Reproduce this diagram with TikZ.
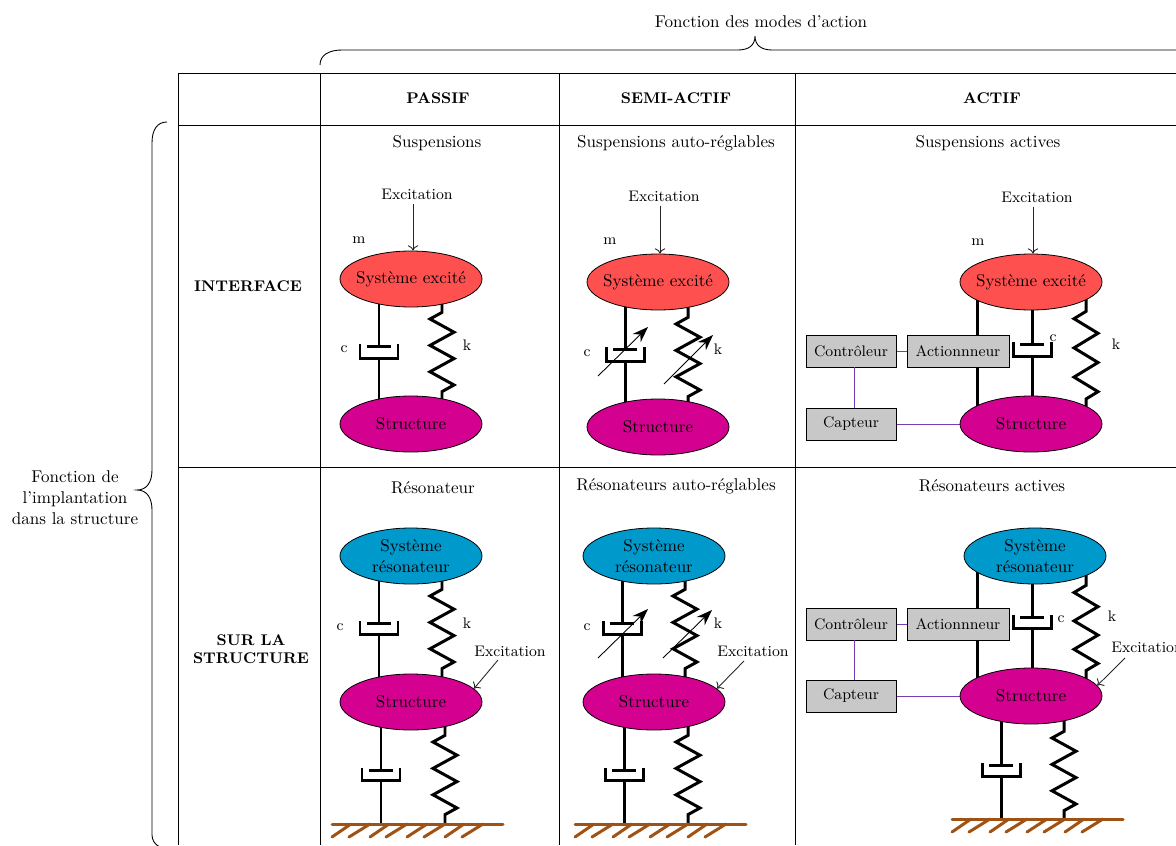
\documentclass[tikz,border=0pt]{standalone}
\usetikzlibrary{shapes.geometric,arrows.meta,backgrounds}
\definecolor{rouge}{RGB}{255,80,80}
\definecolor{magen}{RGB}{212,0,143}
\definecolor{bleu}{RGB}{0,153,204}
\definecolor{gris}{RGB}{200,200,200}
\definecolor{brun}{RGB}{160,82,20}
\definecolor{viol}{RGB}{120,60,180}
\newcommand\taillen{\fontsize{9.7}{11.8}\selectfont}
\newcommand\taillep{\fontsize{8.7}{10.6}\selectfont}
\tikzset{
  masse/.style={ellipse,draw=black,line width=0.45pt,minimum width=2.84cm,minimum height=1.12cm,inner sep=-8pt,align=center,font=\taillen},
  sysex/.style={masse,fill=rouge},
  sysres/.style={masse,fill=bleu},
  struct/.style={masse,fill=magen},
  boite/.style={rectangle,draw=black,line width=0.5pt,fill=gris,inner sep=0pt,minimum height=0.64cm,font=\taillep},
  boitec/.style={boite,minimum width=1.8cm},
  boitea/.style={boite,minimum width=2.04cm},
  meca/.style={line width=1.7pt,black,line join=miter},
  liaison/.style={viol,line width=0.55pt},
  exc/.style={line width=0.5pt,-{To[length=3pt,width=6pt]},black!85},
  regl/.style={line width=0.5pt,-{Stealth[length=9pt,width=6.5pt]},black},
  lab/.style={font=\taillep,inner sep=0pt},
  titre/.style={inner sep=0pt,font=\taillen},
  entete/.style={inner sep=0pt,font=\fontsize{8.8}{10.6}\selectfont\bfseries,align=center},
  trait/.style={line width=0.5pt,black},
  accol/.style={line width=0.5pt,black},
  solb/.style={brun,line width=1.7pt,line cap=round}
}
\newcommand\ressort[5]{%
  \coordinate (rx) at (#2,0);
  \draw[meca] (#1.center -| rx) -- (#1.south -| rx) -- ++(0,#4) -- ++(-12,{#5/2}) -- ++(24,#5) -- ++(-24,#5) -- ++(24,#5) -- ++(-24,#5) -- ++(24,#5) -- ++(-12,{#5/2}) -- (#3.center -| rx);}
\newcommand\amort[5]{%
  \coordinate (rx) at (#2,0);
  \draw[meca] (#1.center -| rx) -- (#1.south -| rx) -- ++(0,#4);
  \draw[meca] (#1.south -| rx) ++(-12,#4) -- ++(24,0);
  \draw[meca] (#1.south -| rx) ++(-19,{#4-2}) -- ++(0,{#5-#4+2}) -- ++(38,0) -- ++(0,{-(#5-#4+2)});
  \draw[meca] (#1.south -| rx) ++(0,#5) -- (#3.center -| rx);}
\newcommand\sol[3]{%
  \coordinate (#1) at (#2,#3);
  \draw[solb] (#1) -- ++(171,0);
  \foreach \a/\b in {0/19,17/38,38/57,54/75,75/95,92/113,113/132,130/151}
    \draw[solb] (#1) ++(\a,13) -- ++({\b-\a},-13);}
\begin{document}
\begin{tikzpicture}[x=0.02cm,y=-0.02cm]
\useasboundingbox (0,0) rectangle (1176,845);
\clip (0,0) rectangle (1176,845);
% table
\draw[trait] (178,73) -- (1176,73);
\draw[trait] (178,125) -- (1176,125);
\draw[trait] (178,467) -- (1176,467);
\foreach \x in {178,320,559,795} \draw[trait] (\x,73) -- (\x,845);
% braces
\draw[accol] (320,65) .. controls (320,55) and (329,50) .. (342,50) -- (738,50) .. controls (749,50) and (755,45) .. (755,36) .. controls (755,45) and (761,50) .. (772,50) -- (1176,50);
\draw[accol] (167,122) .. controls (157,122) and (152,130) .. (152,143) -- (152,470) .. controls (152,482) and (147,490) .. (137,490) .. controls (147,490) and (152,498) .. (152,510) -- (152,835) .. controls (152,840) and (155,845) .. (160,847);
\node[titre] (haut) at (761,22) {Fonction des modes d’action};
\node[titre,align=center,font=\fontsize{9.7}{12}\selectfont] (gauche) at (75,498) {Fonction de\\l’implantation\\dans la structure};
% headers
\node[entete] (hp) at (438,98) {PASSIF};
\node[entete] (hs) at (676,98) {SEMI-ACTIF};
\node[entete] (ha) at (992,98) {ACTIF};
\node[entete] (li) at (248,286) {INTERFACE};
\node[entete] (ls) at (251,649) {SUR LA\\STRUCTURE};
\node[titre] (t11) at (437,143) {Suspensions};
\node[titre] (t12) at (676,143) {Suspensions auto-réglables};
\node[titre] (t13) at (988,143) {Suspensions actives};
\node[titre] (t21) at (433,488) {Résonateur};
\node[titre] (t22) at (676,486) {Résonateurs auto-réglables};
\node[titre] (t23) at (992,486) {Résonateurs actives};
% masses
\node[sysex] (A1) at (411,279) {Système excité};
\node[struct] (B1) at (411,424) {Structure};
\node[sysex] (A2) at (658,282) {Système excité};
\node[struct] (B2) at (658,427) {Structure};
\node[sysex] (A3) at (1031,282) {Système excité};
\node[struct] (B3) at (1031,424) {Structure};
\node[sysres] (C1) at (411,556) {Système\\résonateur};
\node[struct] (D1) at (411,702) {Structure};
\node[sysres] (C2) at (654,556) {Système\\résonateur};
\node[struct] (D2) at (654,702) {Structure};
\node[sysres] (C3) at (1035,556) {Système\\résonateur};
\node[struct] (D3) at (1031,696) {Structure};
% ground
\sol{G1}{332}{824}
\sol{G2}{575}{824}
\sol{G3}{952}{819}
% boxes
\node[boitec] (ctl1) at (851,351) {Contrôleur};
\node[boitea] (act1) at (958,351) {Actionnneur};
\node[boitec] (cap1) at (851,424) {Capteur};
\node[boitec] (ctl2) at (851,624) {Contrôleur};
\node[boitea] (act2) at (958,624) {Actionnneur};
\node[boitec] (cap2) at (851,696) {Capteur};
\coordinate (tige) at (977,0);
\begin{pgfonlayer}{background}
\amort{A1}{379}{B1}{39}{51}
\ressort{A1}{442}{B1}{5}{13.2}
\amort{A2}{625}{B2}{39}{51}
\ressort{A2}{688}{B2}{7}{13.2}
\draw[meca] (A3.center -| tige) -- (B3.center -| tige);
\amort{A3}{1032}{B3}{34}{46}
\ressort{A3}{1086}{B3}{1}{14.6}
\amort{C1}{379}{D1}{39}{50}
\ressort{C1}{442}{D1}{5}{13.2}
\amort{D1}{381}{G1}{40}{50}
\ressort{D1}{445}{G1}{5}{13.2}
\amort{C2}{622}{D2}{39}{50}
\ressort{C2}{685}{D2}{5}{13.2}
\amort{D2}{624}{G2}{40}{50}
\ressort{D2}{688}{G2}{5}{13.2}
\draw[meca] (C3.center -| tige) -- (D3.center -| tige);
\amort{C3}{1032}{D3}{33}{44}
\ressort{C3}{1086}{D3}{1}{14.2}
\amort{D3}{1001}{G3}{41}{52}
\ressort{D3}{1064}{G3}{7}{13.2}
\draw[liaison] (ctl1) -- (act1);
\draw[liaison] (ctl2) -- (act2);
\draw[liaison] (cap1) -- (B3);
\draw[liaison] (cap2) -- (D3);
\end{pgfonlayer}
\coordinate (v1) at (854,0);
\draw[liaison] (ctl1.south -| v1) -- (cap1.north -| v1);
\draw[liaison] (ctl2.south -| v1) -- (cap2.north -| v1);
% labels
\node[lab] (m1) at (359,240) {m};
\node[lab] (c1) at (344,349) {c};
\node[lab] (k1) at (467,345) {k};
\node[lab] (m2) at (610,241) {m};
\node[lab] (c2) at (587,353) {c};
\node[lab] (k2) at (718,349) {k};
\node[lab] (m3) at (978,242) {m};
\node[lab] (c3) at (1053,338) {c};
\node[lab] (k3) at (1116,344) {k};
\node[lab] (c4) at (340,627) {c};
\node[lab] (k4) at (467,623) {k};
\node[lab] (c5) at (587,627) {c};
\node[lab] (k5) at (718,623) {k};
\node[lab] (c6) at (1061,619) {c};
\node[lab] (k6) at (1112,616) {k};
\node[lab] (e1) at (417,194) {Excitation};
\node[lab] (e2) at (664,196) {Excitation};
\node[lab] (e3) at (1037,197) {Excitation};
\node[lab] (e4) at (510,651) {Excitation};
\node[lab] (e5) at (753,651) {Excitation};
\node[lab,anchor=west] (e6) at (1111,647) {Excitation};
% excitation arrows
\coordinate (x1) at (413,0);
\coordinate (x2) at (660,0);
\coordinate (x3) at (1033,0);
\draw[exc] (e1.south -| x1) ++(0,4) -- (A1.north -| x1);
\draw[exc] (e2.south -| x2) ++(0,4) -- (A2.north -| x2);
\draw[exc] (e3.south -| x3) ++(0,4) -- (A3.north -| x3);
\coordinate (f4) at (498,660);
\coordinate (f5) at (744,661);
\coordinate (f6) at (1125,658);
\draw[exc] (f4) -- (D1.12);
\draw[exc] (f5) -- (D2.12);
\draw[exc] (f6) -- (D3.9);
% adjustable arrows
\coordinate (r1a) at (598,376); \coordinate (r1b) at (648,327);
\coordinate (r2a) at (664,384); \coordinate (r2b) at (713,335);
\coordinate (r3a) at (598,658); \coordinate (r3b) at (648,609);
\coordinate (r4a) at (663,658); \coordinate (r4b) at (712,610);
\draw[regl] (r1a) -- (r1b);
\draw[regl] (r2a) -- (r2b);
\draw[regl] (r3a) -- (r3b);
\draw[regl] (r4a) -- (r4b);
\end{tikzpicture}
\end{document}
